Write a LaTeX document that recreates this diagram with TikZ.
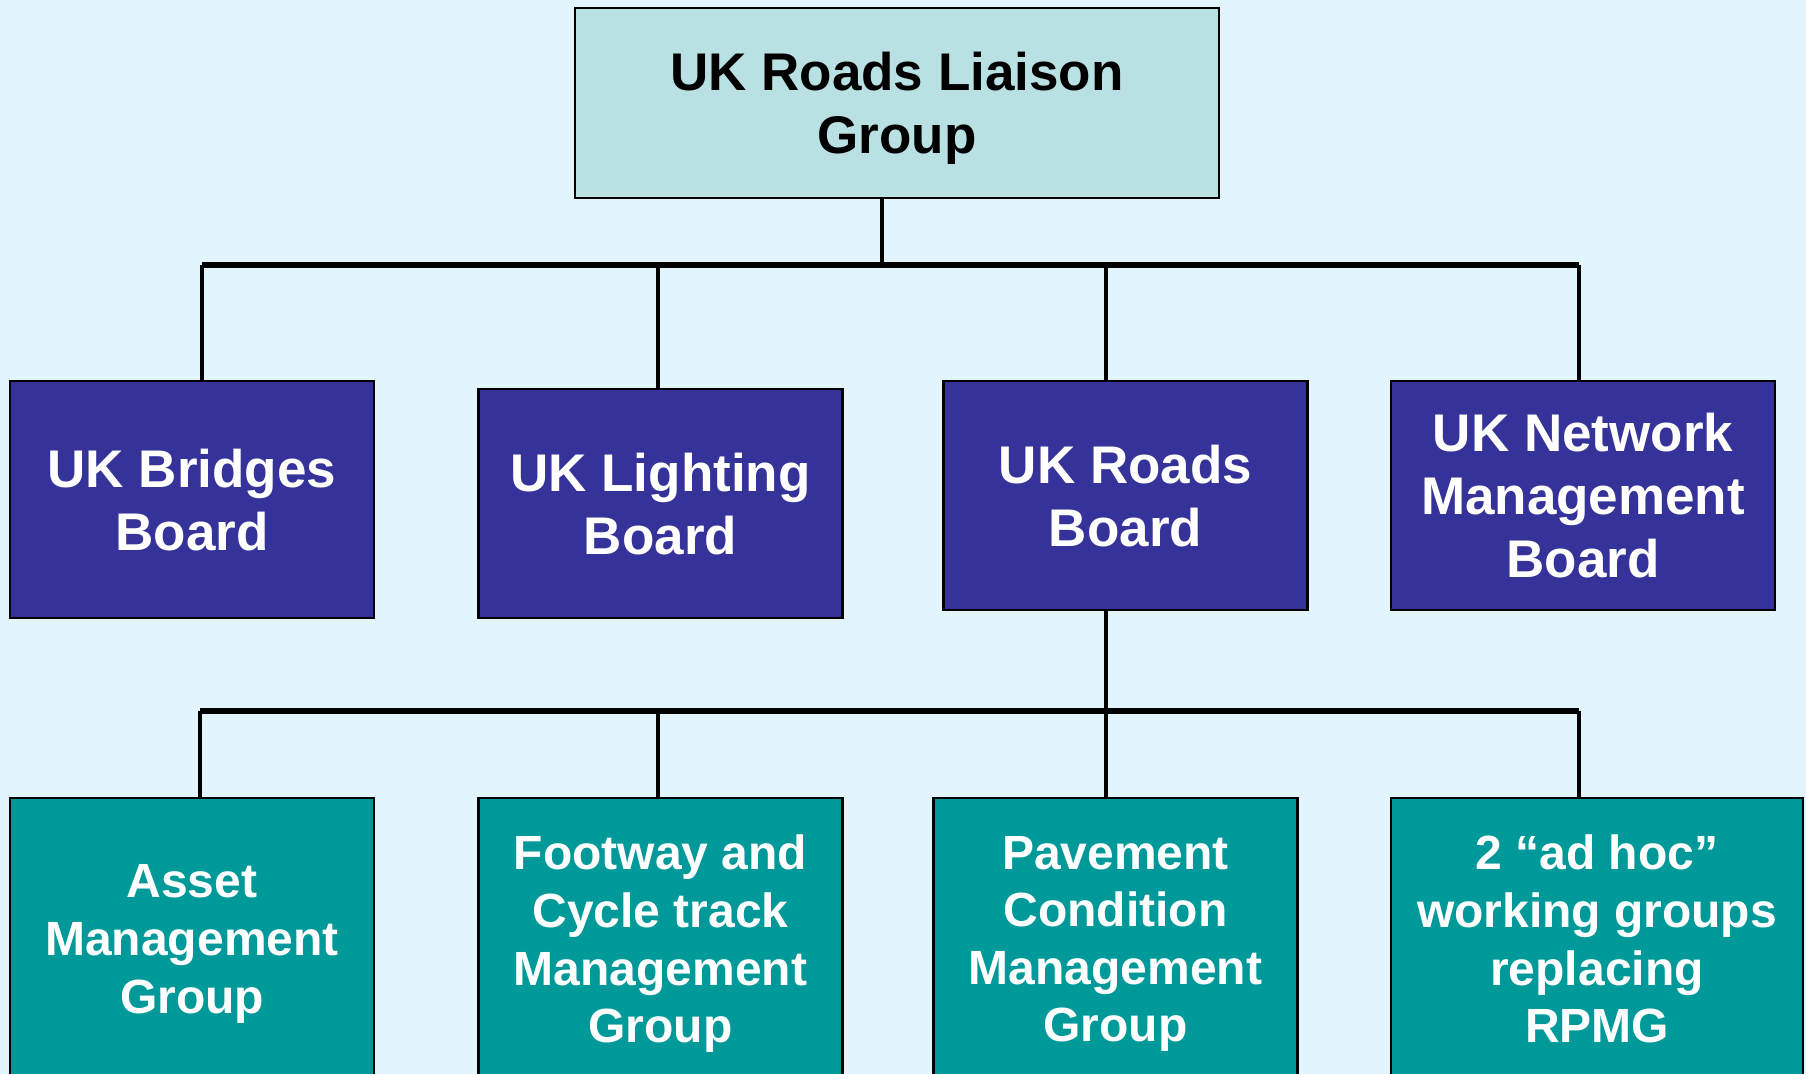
\documentclass[tikz,border=0pt]{standalone}
\usepackage{fontspec}
\setmainfont{Liberation Sans}
\definecolor{pagebg}{HTML}{E2F4FD}
\definecolor{liaisonfill}{HTML}{B9E0E3}
\definecolor{boardfill}{HTML}{353399}
\definecolor{groupfill}{HTML}{009999}

\begin{document}
\begin{tikzpicture}[x=0.5pt,y=-0.5pt,
    every node/.style={draw=black,line width=1.2pt,align=center,inner sep=0pt,text depth=0pt},
    liaison/.style={fill=liaisonfill,text=black,minimum width=322pt,minimum height=95pt,
        font=\fontsize{26.5}{31.5}\selectfont\bfseries},
    board/.style={fill=boardfill,text=white,minimum width=182pt,minimum height=114.5pt,
        font=\fontsize{26.5}{31.5}\selectfont\bfseries},
    group/.style={fill=groupfill,text=white,minimum width=182pt,minimum height=141pt,
        font=\fontsize{24}{28.8}\selectfont\bfseries},
    link/.style={line width=2pt},
    bus/.style={line width=2.6pt}
    ]
\fill[pagebg] (0,0) rectangle (1806,1074);
\useasboundingbox (0,0) rectangle (1806,1074);%page size of the slide

\node[liaison] (rlg) at (897,103) {UK Roads Liaison\\Group};

\node[board,minimum height=118.5pt] (bridges) at (192,499.5) {UK Bridges\\Board};
\node[board] (lighting) at (660.5,503.5) {UK Lighting\\Board};
\node[board] (roads) at (1125.5,495.5) {UK Roads\\Board};
\node[board,minimum width=192pt] (network) at (1583,495.5) {UK Network\\Management\\Board};

\node[group] (asset) at (192,939) {Asset\\Management\\Group};
\node[group] (footway) at (660.5,939) {Footway and\\Cycle track\\Management\\Group};
\node[group] (pavement) at (1115.5,939) {Pavement\\Condition\\Management\\Group};
\node[group,minimum width=206pt] (adhoc) at (1597,939) {2 “ad hoc”\\working groups\\replacing\\RPMG};

% drop points on the two buses
\coordinate (tm) at (882,265);
\coordinate (ta) at (202,265);
\coordinate (tb) at (658,265);
\coordinate (tc) at (1106,265);
\coordinate (td) at (1579,265);
\coordinate (ba) at (200,711);
\coordinate (bb) at (658,711);
\coordinate (bc) at (1106,711);
\coordinate (bd) at (1579,711);

\draw[link] (tm |- rlg.south) -- (tm);
\draw[bus] (ta) -- (td);
\draw[link] (ta) -- (ta |- bridges.north);
\draw[link] (tb) -- (tb |- lighting.north);
\draw[link] (tc) -- (tc |- roads.north);
\draw[link] (td) -- (td |- network.north);

\draw[link] (bc |- roads.south) -- (bc);
\draw[bus] (ba) -- (bd);
\draw[link] (ba) -- (ba |- asset.north);
\draw[link] (bb) -- (bb |- footway.north);
\draw[link] (bc) -- (bc |- pavement.north);
\draw[link] (bd) -- (bd |- adhoc.north);
\end{tikzpicture}
\end{document}
